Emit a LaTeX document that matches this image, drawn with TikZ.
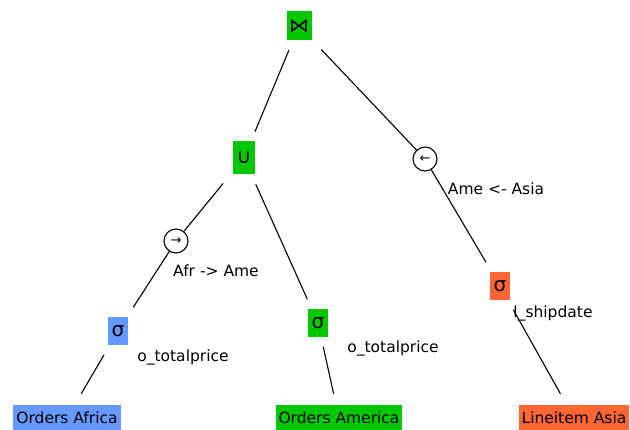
\documentclass[tikz,border=0pt]{standalone}
\usepackage{fontspec}
\setmainfont{DejaVu Sans}
\definecolor{opgreen}{RGB}{0,200,0}
\definecolor{opblue}{RGB}{102,153,255}
\definecolor{oporange}{RGB}{255,102,51}
\begin{document}
\begin{tikzpicture}[x=1pt, y=-1pt, line width=1.1pt, font={\fontsize{15.5pt}{18pt}\selectfont}, line join=round, line cap=round,
	op/.style={fill=#1, inner sep=0pt, minimum width=20pt, minimum height=28pt, outer sep=10pt, font={\fontsize{20pt}{20pt}\selectfont}},
	rel/.style={fill=#1, inner xsep=3pt, inner ysep=0pt, minimum height=25pt, outer sep=12pt},
	move/.style={draw, circle, inner sep=0pt, minimum size=24pt, font={\fontsize{13pt}{13pt}\selectfont}},
	lbl/.style={inner sep=0pt}]
		\useasboundingbox (0,0) rectangle (630,430);
		% operators
		\node[op=opgreen, minimum width=25pt, minimum height=29pt] (join) at (299,26) {⋈};
		\node[op=opgreen, minimum width=22pt, minimum height=33pt] (union) at (244,158) {∪};
		\node[move] (mvright) at (176,241) {→};
		\node[move] (mvleft) at (425,159) {←};
		\node[op=opblue] (selafr) at (118,331) {σ};
		\node[op=opgreen] (selame) at (318,323) {σ};
		\node[op=oporange] (selasia) at (500,286) {σ};
		% relations
		\node[rel=opblue] (ordafr) at (67,418) {Orders Africa};
		\node[rel=opgreen] (ordame) at (339,418) {Orders America};
		\node[rel=oporange] (lineasia) at (574,418) {Lineitem Asia};
		% labels
		\node[lbl] (lafr) at (216,271) {Afr -> Ame};
		\node[lbl] (lasia) at (496,189) {Ame <- Asia};
		\node[lbl] (lpafr) at (183,357) {o\_totalprice};
		\node[lbl] (lpame) at (393,348) {o\_totalprice};
		\node[lbl] (lship) at (553,313) {l\_shipdate};
		\draw 
		(join) -- (union)
		(join) -- (mvleft)
		(union) -- (mvright)
		(union) -- (selame)
		(mvright) -- (selafr)
		(selafr) -- (ordafr)
		(selame) -- (ordame)
		(mvleft) -- (selasia)
		(selasia) -- (lineasia)
		;
	\end{tikzpicture}
\end{document}
